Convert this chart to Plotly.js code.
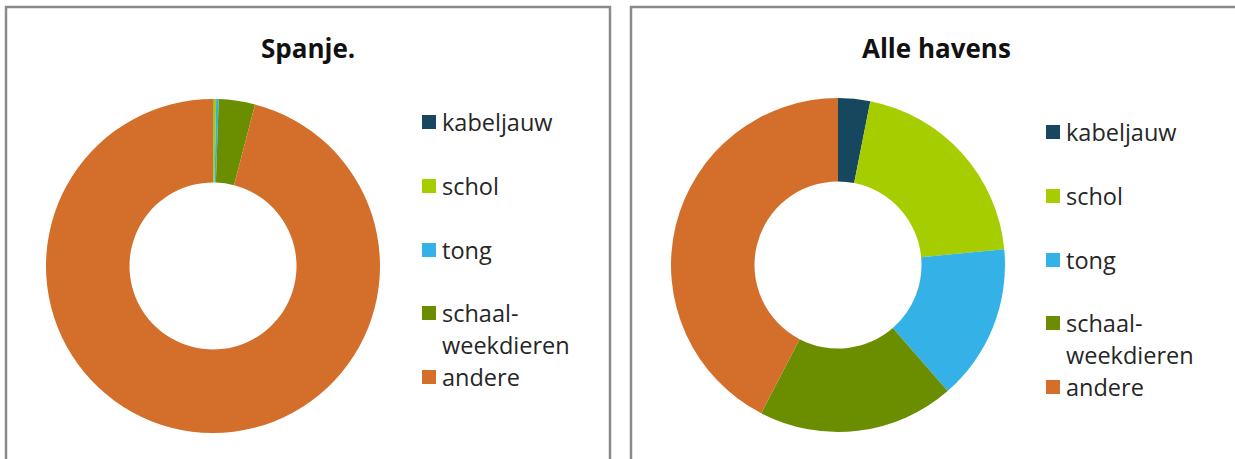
<!DOCTYPE html>
<html>
<head>
<meta charset="utf-8">
<script src="https://cdn.plot.ly/plotly-3.0.1.min.js"></script>
<style>html,body{margin:0;padding:0;background:#fff;}#chart{width:1235px;height:459px;}</style>
</head>
<body>
<div id="chart"></div>
<script>
// ---- data ----
const categories = ["kabeljauw", "schol", "tong", "schaal-weekdieren", "andere"];
const legendLabels = ["kabeljauw", "schol", "tong", "schaal-<br>weekdieren", "andere"];
const colors = ["#17475e", "#a6cd00", "#34b2e8", "#6b8e00", "#d36f2a"];
const titles = ["Spanje.", "Alle havens"];
const valuesSpanje = [0.05, 0.25, 0.25, 3.5, 95.95];
const valuesAlleHavens = [3.1, 20.4, 15.1, 19.0, 42.4];

// ---- layout helpers (pixel -> paper) ----
const W = 1235, H = 459;
const px = v => v / W;
const py = v => 1 - v / H;

const panels = [
  {values: valuesSpanje, cx: 213, cy: 266, r: 167, box: [6, 7, 610, 480], titleX: 308, legX: 422, legY: 122},
  {values: valuesAlleHavens, cx: 838, cy: 265, r: 167, box: [631, 7, 1250, 480], titleX: 936, legX: 1046, legY: 132}
];
const itemOffsets = [0, 64, 128, 191, 255];
const lineGap = 32;
const sq = 14;
const fontFam = "'Open Sans', 'DejaVu Sans', sans-serif";
const textColor = "#262626";

const data = [];
const shapes = [];
const annotations = [];

panels.forEach((p, i) => {
  data.push({
    type: "pie",
    labels: categories,
    values: p.values,
    hole: 0.5,
    sort: false,
    direction: "clockwise",
    rotation: 0,
    marker: {colors: colors, line: {width: 0}},
    textinfo: "none",
    hoverinfo: "label+percent",
    showlegend: false,
    domain: {x: [px(p.cx - p.r), px(p.cx + p.r)], y: [py(p.cy + p.r), py(p.cy - p.r)]}
  });
  shapes.push({
    type: "rect", xref: "paper", yref: "paper",
    x0: px(p.box[0]), x1: px(p.box[2]), y0: py(p.box[3]), y1: py(p.box[1]),
    line: {color: "#8a8a8a", width: 2.5}, fillcolor: "rgba(0,0,0,0)"
  });
  annotations.push({
    xref: "paper", yref: "paper", x: px(p.titleX), y: py(48),
    xanchor: "center", yanchor: "middle", showarrow: false,
    text: "<b>" + titles[i] + "</b>",
    font: {family: fontFam, size: 26, color: "#111111"}
  });
  legendLabels.forEach((lab, k) => {
    const yc = p.legY + itemOffsets[k];
    shapes.push({
      type: "rect", xref: "paper", yref: "paper",
      x0: px(p.legX), x1: px(p.legX + sq), y0: py(yc + sq / 2), y1: py(yc - sq / 2),
      line: {width: 0}, fillcolor: colors[k]
    });
    lab.split("<br>").forEach((ln, j) => {
      annotations.push({
        xref: "paper", yref: "paper", x: px(p.legX + 18), y: py(yc + j * lineGap),
        xanchor: "left", yanchor: "middle", showarrow: false,
        text: ln,
        font: {family: fontFam, size: 23.5, color: textColor}
      });
    });
  });
});

const layout = {
  width: W, height: H,
  margin: {l: 0, r: 0, t: 0, b: 0},
  paper_bgcolor: "#ffffff",
  plot_bgcolor: "#ffffff",
  showlegend: false,
  shapes: shapes,
  annotations: annotations
};

Plotly.newPlot("chart", data, layout, {displayModeBar: false, staticPlot: true});
</script>
</body>
</html>
